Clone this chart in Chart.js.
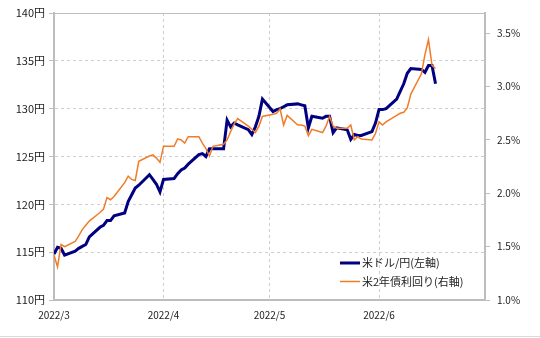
<!DOCTYPE html>
<html>
<head>
<meta charset="utf-8">
<script src="https://cdn.jsdelivr.net/npm/chart.js@4/dist/chart.umd.min.js"></script>
<style>
  html, body { margin: 0; padding: 0; background: #fff; }
  #wrap { width: 540px; height: 338px; position: relative; }
</style>
</head>
<body>
<div id="wrap"><canvas id="myChart"></canvas></div>
<script>
// 日付（2022年、営業日）
const dates = [
  "3/1", "3/2", "3/3", "3/4", "3/7", "3/8", "3/9", "3/10", "3/11",
  "3/14", "3/15", "3/16", "3/17", "3/18", "3/21", "3/22", "3/23", "3/24", "3/25",
  "3/28", "3/29", "3/30", "3/31",
  "4/1", "4/4", "4/5", "4/6", "4/7", "4/8", "4/11", "4/12", "4/13", "4/14", "4/15",
  "4/18", "4/19", "4/20", "4/21", "4/22", "4/25", "4/26", "4/27", "4/28", "4/29",
  "5/2", "5/3", "5/4", "5/5", "5/6", "5/9", "5/10", "5/11", "5/12", "5/13",
  "5/16", "5/17", "5/18", "5/19", "5/20", "5/23", "5/24", "5/25", "5/26", "5/27",
  "5/30", "5/31",
  "6/1", "6/2", "6/3", "6/6", "6/7", "6/8", "6/9", "6/10", "6/13", "6/14", "6/15",
  "6/16", "6/17",
];

// 米ドル/円（左軸）
const usdJpy = [
  114.8, 115.5, 115.4, 114.7, 115.1, 115.4, 115.6, 115.8, 116.6,
  117.6, 117.8, 118.3, 118.3, 118.8, 119.1, 120.3, 121.0, 121.7, 122.0,
  123.1, 122.6, 122.1, 121.3,
  122.6, 122.7, 123.2, 123.6, 123.8, 124.2, 125.2, 125.3, 125.0, 125.8, 125.8,
  125.8, 128.8, 128.1, 128.5, 128.3, 127.8, 127.3, 128.1, 129.2, 131.0,
  129.7, 129.9, 130.0, 130.2, 130.4, 130.5, 130.4, 130.3, 128.0, 129.2,
  129.0, 129.2, 129.2, 127.5, 128.0, 127.8, 126.8, 127.3, 127.2, 127.2,
  127.6, 128.5,
  129.9, 129.9, 130.0, 131.0, 131.8, 132.6, 133.7, 134.2, 134.1, 133.8, 134.5,
  134.5, 132.6,
];

// 米2年債利回り（右軸、%）
const us2y = [
  1.42, 1.31, 1.52, 1.50, 1.55, 1.60, 1.66, 1.70, 1.74,
  1.82, 1.85, 1.96, 1.94, 1.97, 2.10, 2.16, 2.13, 2.12, 2.30,
  2.35, 2.36, 2.33, 2.29,
  2.44, 2.44, 2.51, 2.50, 2.47, 2.53, 2.53, 2.47, 2.42, 2.35, 2.44,
  2.46, 2.50, 2.58, 2.65, 2.70, 2.63, 2.60, 2.57, 2.63, 2.72,
  2.74, 2.75, 2.79, 2.64, 2.73, 2.64, 2.64, 2.63, 2.54, 2.60,
  2.57, 2.63, 2.72, 2.63, 2.61, 2.61, 2.64, 2.50, 2.53, 2.51,
  2.50, 2.56,
  2.67, 2.64, 2.67, 2.73, 2.75, 2.76, 2.80, 2.93, 3.12, 3.30, 3.44,
  3.20, 3.17,
];

// x軸の目盛（各月1日）
const monthTicks = ["3/1", "4/1", "5/1", "6/1"];
const monthLabels = ["2022/3", "2022/4", "2022/5", "2022/6"];
const xEnd = "7/1";

const seriesNames = ["米ドル/円(左軸)", "米2年債利回り(右軸)"];
const seriesColors = ["#000080", "#f07c28"];

// 3/1 からの日数
const dayOf = (s) => {
  const [m, d] = s.split("/").map(Number);
  return (Date.UTC(2022, m - 1, d) - Date.UTC(2022, 2, 1)) / 86400000;
};

const gridColor = "#cfcfcf";
const axisColor = "#bdbdbd";

const frame = {
  id: "frame",
  afterDraw: (chart) => {
    const { ctx, chartArea: { top, left, right } } = chart;
    ctx.save();
    ctx.strokeStyle = axisColor;
    ctx.lineWidth = 1;
    ctx.beginPath();
    ctx.moveTo(left, top + 0.5);
    ctx.lineTo(right, top + 0.5);
    ctx.stroke();

    ctx.strokeStyle = "#d9d9d9";
    ctx.beginPath();
    ctx.moveTo(0, 336.5);
    ctx.lineTo(chart.width, 336.5);
    ctx.stroke();

    // 凡例
    ctx.font = "11px 'Noto Sans CJK JP', sans-serif";
    ctx.textBaseline = "middle";
    ctx.textAlign = "left";
    const lx = 340, ly = 263;
    seriesNames.forEach((name, i) => {
      const y = ly + i * 18.5;
      ctx.strokeStyle = seriesColors[i];
      ctx.lineWidth = i === 0 ? 3 : 1.5;
      ctx.beginPath();
      ctx.moveTo(lx, y);
      ctx.lineTo(lx + 20, y);
      ctx.stroke();
      ctx.fillStyle = "#222";
      ctx.fillText(name, lx + 22, y);
    });
    ctx.restore();
  },
};

Chart.defaults.font.family = "'Noto Sans CJK JP', sans-serif";
Chart.defaults.font.size = 10;
Chart.defaults.color = "#222";

const config = {
  type: "line",
  data: {
    datasets: [
      {
        label: seriesNames[0],
        data: dates.map((d, i) => ({ x: dayOf(d), y: usdJpy[i] })),
        borderColor: seriesColors[0],
        borderWidth: 3,
        pointRadius: 0,
        tension: 0,
        yAxisID: "y",
        order: 1,
      },
      {
        label: seriesNames[1],
        data: dates.map((d, i) => ({ x: dayOf(d), y: us2y[i] })),
        borderColor: seriesColors[1],
        borderWidth: 1.5,
        pointRadius: 0,
        tension: 0,
        yAxisID: "y1",
        order: 0,
      },
    ],
  },
  options: {
    responsive: true,
    maintainAspectRatio: false,
    animation: false,
    layout: { padding: { top: 13, right: 0, bottom: 0, left: 0 } },
    plugins: { legend: { display: false }, tooltip: { enabled: false } },
    scales: {
      x: {
        type: "linear",
        min: 0,
        max: dayOf(xEnd),
        afterBuildTicks: (scale) => {
          scale.ticks = monthTicks.map((t) => ({ value: dayOf(t) }));
        },
        afterFit: (scale) => { scale.height = 38; },
        ticks: {
          autoSkip: false,
          maxRotation: 0,
          padding: 9,
          callback: (v) => monthLabels[monthTicks.map(dayOf).indexOf(v)],
        },
        grid: {
          drawTicks: false,
          color: (c) => (c.tick && c.tick.value === 0 ? "transparent" : gridColor),
        },
        border: { color: axisColor, width: 2, dash: [3, 3] },
      },
      y: {
        position: "left",
        min: 110,
        max: 140,
        afterFit: (scale) => { scale.width = 54; },
        ticks: { stepSize: 5, padding: 4, font: { size: 11 }, callback: (v) => v + "円" },
        grid: {
          tickLength: 5,
          tickColor: axisColor,
          color: (c) =>
            c.tick && (c.tick.value === 110 || c.tick.value === 140) ? "transparent" : gridColor,
        },
        border: { color: axisColor, width: 2, dash: [3, 3] },
      },
      y1: {
        position: "right",
        min: 1.0,
        max: 3.69,
        afterBuildTicks: (scale) => {
          scale.ticks = [1.0, 1.5, 2.0, 2.5, 3.0, 3.5].map((v) => ({ value: v }));
        },
        afterFit: (scale) => { scale.width = 55; },
        ticks: { padding: 7, callback: (v) => v.toFixed(1) + "%" },
        grid: { drawOnChartArea: false, tickLength: 5, tickColor: axisColor },
        border: { color: axisColor, width: 2 },
      },
    },
  },
  plugins: [frame],
};

const myChart = new Chart(document.getElementById("myChart"), config);
</script>
</body>
</html>
